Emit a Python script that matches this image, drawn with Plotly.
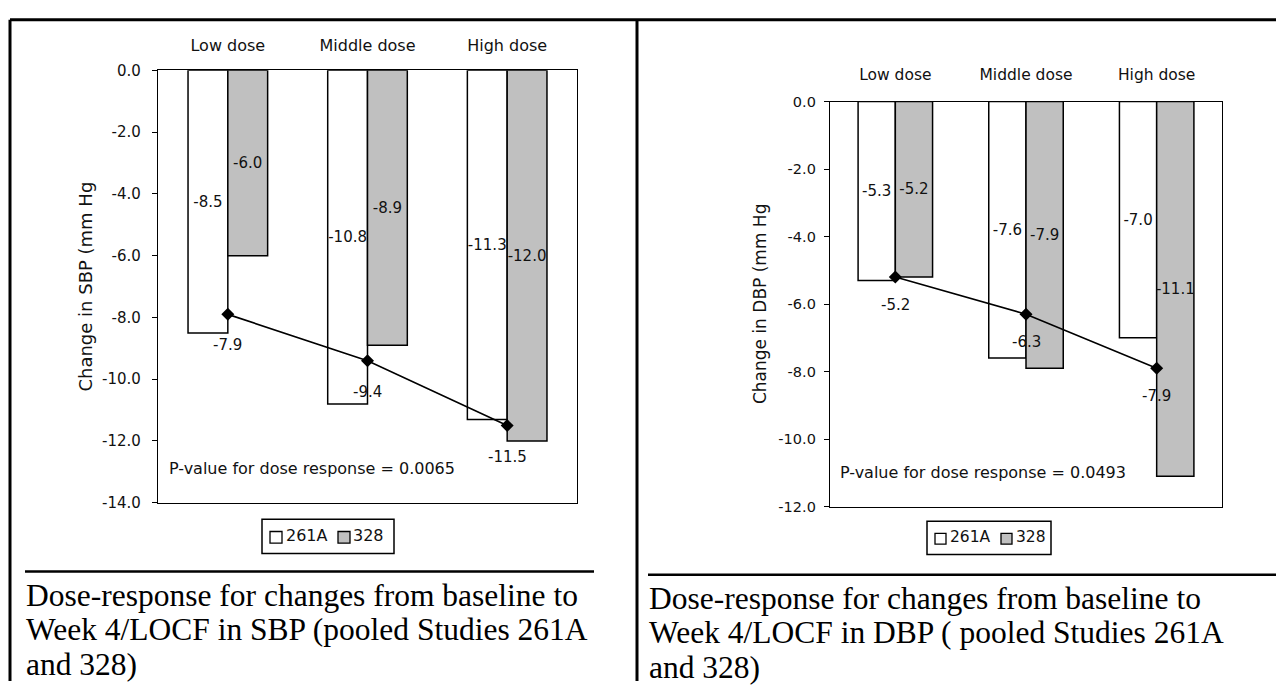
import plotly.graph_objects as go

# ---------------- data ----------------
categories = ["Low dose", "Middle dose", "High dose"]
series_names = ["261A", "328"]
series_colors = ["white", "#c0c0c0"]

sbp_261A = [-8.5, -10.8, -11.3]
sbp_328 = [-6.0, -8.9, -12.0]
sbp_pooled = [-7.9, -9.4, -11.5]
sbp_ticks = [0.0, -2.0, -4.0, -6.0, -8.0, -10.0, -12.0, -14.0]
sbp_pvalue = "P-value for dose response = 0.0065"
sbp_title = "Change in SBP (mm Hg"

dbp_261A = [-5.3, -7.6, -7.0]
dbp_328 = [-5.2, -7.9, -11.1]
dbp_pooled = [-5.2, -6.3, -7.9]
dbp_ticks = [0.0, -2.0, -4.0, -6.0, -8.0, -10.0, -12.0]
dbp_pvalue = "P-value for dose response = 0.0493"
dbp_title = "Change in DBP (mm Hg"

caption_left = ["Dose-response for changes from baseline to",
                "Week 4/LOCF in SBP (pooled Studies 261A",
                "and 328)"]
caption_right = ["Dose-response for changes from baseline to",
                 "Week 4/LOCF in DBP ( pooled Studies 261A",
                 "and 328)"]

W, H = 1276, 690


def px(x):
    return x / W


def py(y):
    return 1 - y / H


SANS = "DejaVu Sans, Verdana, sans-serif"
SERIF = "Liberation Serif, Times New Roman, serif"
TXT = "#111111"

fig = go.Figure()


def fmt(v):
    return f"{v:.1f}"


def add_panel(xa, ya, v1, v2, pooled, lab_size, yshift):
    for name, vals, color in ((series_names[0], v1, series_colors[0]),
                              (series_names[1], v2, series_colors[1])):
        fig.add_trace(go.Bar(
            x=categories, y=vals, name=name,
            marker=dict(color=color, line=dict(color="black", width=1.5)),
            text=[fmt(v) for v in vals], textposition="inside",
            insidetextanchor="middle", textangle=0, constraintext="none",
            insidetextfont=dict(family=SANS, size=lab_size, color=TXT),
            xaxis=xa, yaxis=ya, showlegend=False, hoverinfo="skip"))
    fig.add_trace(go.Scatter(
        x=categories, y=pooled, mode="lines+markers",
        line=dict(color="black", width=1.6),
        marker=dict(symbol="diamond", size=10, color="black"),
        showlegend=False, xaxis=xa, yaxis=ya, hoverinfo="skip"))
    for c, v in zip(categories, pooled):
        fig.add_annotation(x=c, y=v, xref=xa, yref=ya, text=fmt(v),
                           showarrow=False, yshift=yshift,
                           xanchor="center", yanchor="middle",
                           font=dict(family=SANS, size=lab_size, color=TXT))


add_panel("x", "y", sbp_261A, sbp_328, sbp_pooled, 15, -31)
add_panel("x2", "y2", dbp_261A, dbp_328, dbp_pooled, 15, -28)


def xaxis_style(size, ticklen, domain, anchor):
    return dict(type="category", side="top", showline=True, mirror=True,
                linecolor="black", linewidth=1.4, showgrid=False,
                ticks="outside", ticklen=ticklen,
                tickcolor="rgba(0,0,0,0)", domain=domain, anchor=anchor,
                tickfont=dict(family=SANS, size=size, color=TXT))


def yaxis_style(size, ticks, rng, standoff, domain, anchor):
    return dict(showline=True, mirror=True, linecolor="black", linewidth=1.4,
                showgrid=False, zeroline=False, ticks="outside", ticklen=5,
                tickcolor="black", tickwidth=1.3, range=rng,
                tickvals=ticks, ticktext=[fmt(t) for t in ticks],
                ticklabelstandoff=standoff, domain=domain, anchor=anchor,
                tickfont=dict(family=SANS, size=size, color=TXT))


fig.update_layout(
    width=W, height=H, autosize=False,
    margin=dict(l=0, r=0, t=0, b=0),
    paper_bgcolor="white", plot_bgcolor="white",
    barmode="group", bargap=0.43, bargroupgap=0,
    showlegend=False,
    xaxis=xaxis_style(16, 12, [px(158), px(577)], "y"),
    yaxis=yaxis_style(15, sbp_ticks, [-14, 0], 8, [py(507), py(63)], "x"),
    xaxis2=xaxis_style(15.5, 14, [px(830), px(1222)], "y2"),
    yaxis2=yaxis_style(14.5, dbp_ticks, [-12, 0], 5, [py(511), py(95)], "x2"),
)

# axis titles
fig.add_annotation(x=px(86), y=py(285), xref="paper", yref="paper",
                   text=sbp_title, textangle=-90, showarrow=False,
                   xanchor="center", yanchor="middle",
                   font=dict(family=SANS, size=18, color=TXT))
fig.add_annotation(x=px(760), y=py(303), xref="paper", yref="paper",
                   text=dbp_title, textangle=-90, showarrow=False,
                   xanchor="center", yanchor="middle",
                   font=dict(family=SANS, size=17, color=TXT))

# p-value notes
fig.add_annotation(x=px(167), y=py(472), xref="paper", yref="paper",
                   text=sbp_pvalue, xanchor="left", yanchor="middle",
                   showarrow=False,
                   font=dict(family=SANS, size=16, color=TXT))
fig.add_annotation(x=px(838), y=py(476), xref="paper", yref="paper",
                   text=dbp_pvalue, xanchor="left", yanchor="middle",
                   showarrow=False,
                   font=dict(family=SANS, size=16, color=TXT))


# legends (box with two swatches), one per chart
def add_legend(box, swatches, texts, size):
    x0, y0, x1, y1 = box
    fig.add_shape(type="rect", xref="paper", yref="paper",
                  x0=px(x0), y0=py(y1), x1=px(x1), y1=py(y0),
                  line=dict(color="black", width=1.5), fillcolor="white")
    ym = (y0 + y1) / 2 + 1
    for (sx, sw), color, (tx, name) in zip(swatches, series_colors, texts):
        fig.add_shape(type="rect", xref="paper", yref="paper",
                      x0=px(sx), y0=py(ym + sw / 2), x1=px(sx + sw),
                      y1=py(ym - sw / 2),
                      line=dict(color="black", width=1.3), fillcolor=color)
        fig.add_annotation(x=px(tx), y=py(ym - 2), xref="paper",
                           yref="paper", text=name, xanchor="left",
                           yanchor="middle", showarrow=False,
                           font=dict(family=SANS, size=size, color=TXT))


add_legend((262, 524, 394, 559), [(270, 12), (338, 12)],
           [(284, series_names[0]), (351, series_names[1])], 16)
add_legend((927, 526, 1051, 560), [(935, 11), (1001, 11)],
           [(948, series_names[0]), (1014, series_names[1])], 15.5)

# captions
for i, line in enumerate(caption_left):
    fig.add_annotation(x=px(24), y=py(602 + 35.5 * i), xref="paper",
                       yref="paper", text=line, xanchor="left",
                       yanchor="middle", showarrow=False,
                       font=dict(family=SERIF, size=31.5, color="black"))
for i, line in enumerate(caption_right):
    fig.add_annotation(x=px(647), y=py(605 + 35.5 * i), xref="paper",
                       yref="paper", text=line, xanchor="left",
                       yanchor="middle", showarrow=False,
                       font=dict(family=SERIF, size=31.5, color="black"))

# frame and caption rules
lines = [
    (10, 11, W, 11, 3),
    (10, 11, 10, H, 3),
    (637, 11, 637, H, 3),
    (25, 577.5, 594, 577.5, 2.5),
    (648, 581, W, 581, 2.5),
]
for x0, y0, x1, y1, w in lines:
    fig.add_shape(type="line", xref="paper", yref="paper",
                  x0=px(x0), y0=py(y0), x1=px(x1), y1=py(y1),
                  line=dict(color="black", width=w))

fig.write_html("out.html")
